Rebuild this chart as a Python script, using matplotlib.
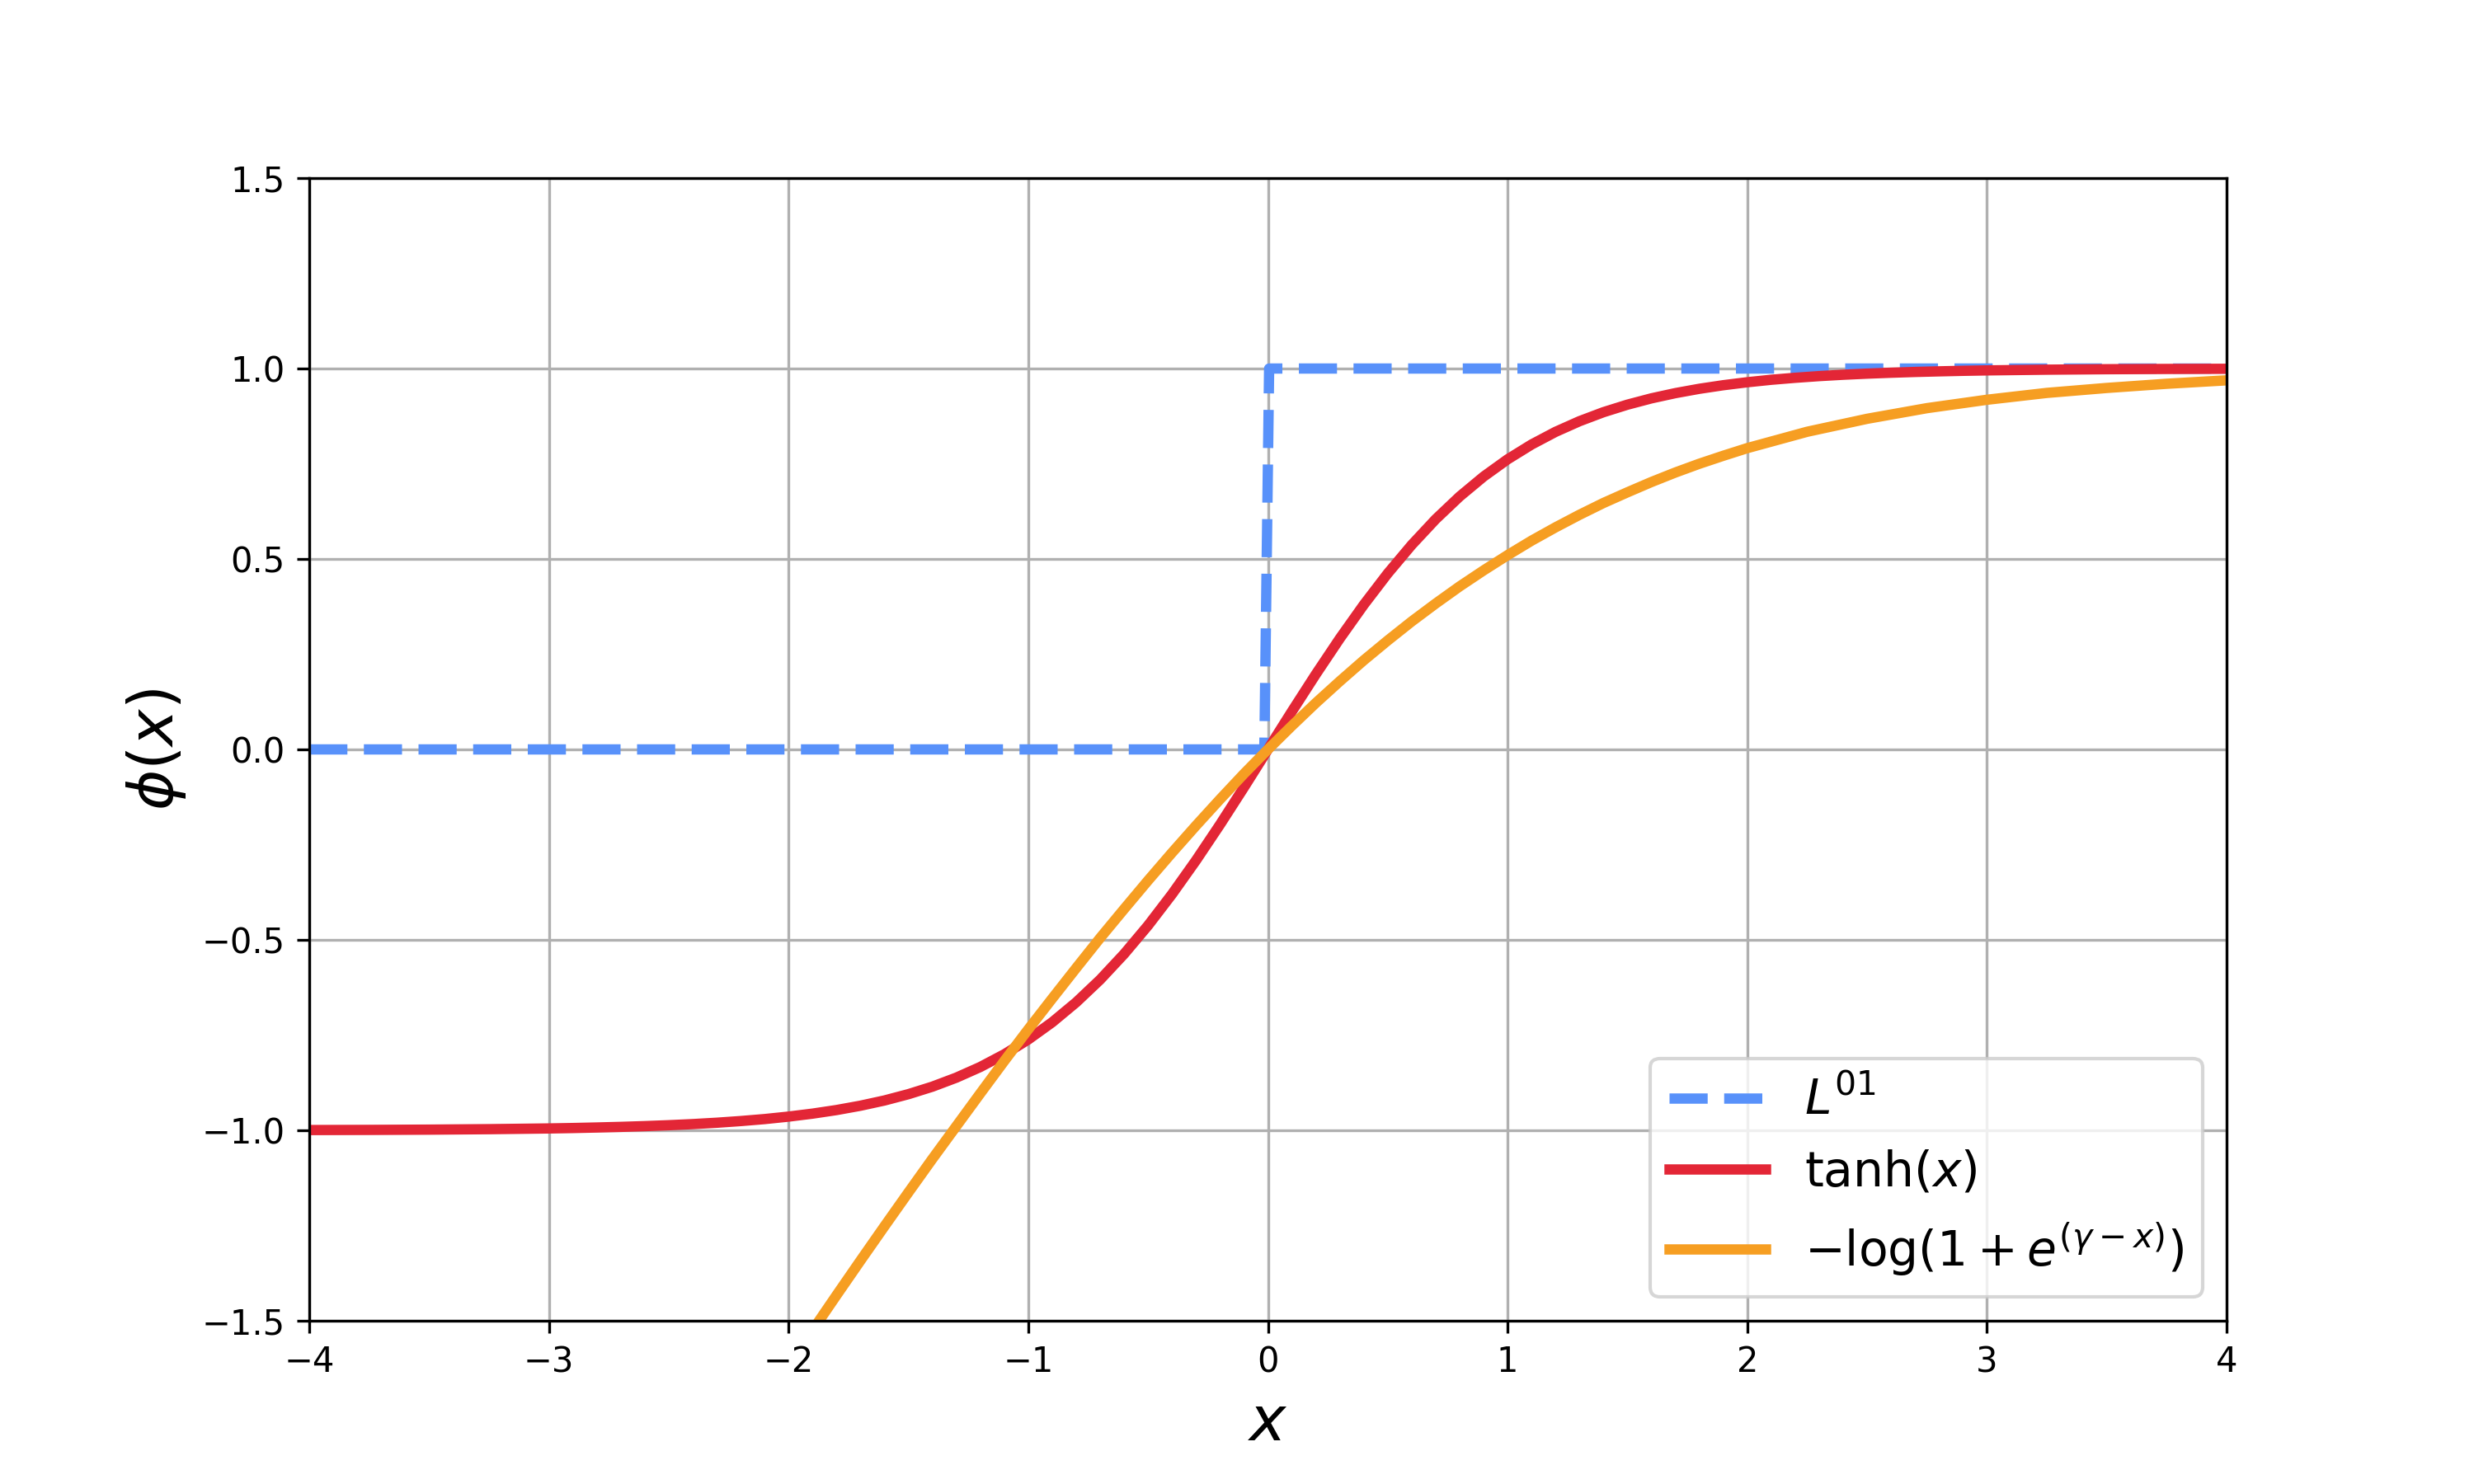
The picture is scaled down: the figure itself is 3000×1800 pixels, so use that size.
import numpy as np
import matplotlib.pyplot as plt

# step function L01 (corner points)
step_x = [-4.0, -0.015, 0.005, 4.0]
step_y = [0.0, 0.0, 1.0, 1.0]

# tanh(x): the right half, the left half is its mirror
tanh_half_x = [0.0, 0.1, 0.2, 0.3, 0.4, 0.5, 0.6, 0.7, 0.8, 0.9, 1.0,
               1.1, 1.2, 1.3, 1.4, 1.5, 1.6, 1.7, 1.8, 1.9, 2.0,
               2.1, 2.2, 2.3, 2.4, 2.5, 2.6, 2.7, 2.8, 2.9, 3.0,
               3.25, 3.5, 3.75, 4.0]
tanh_half_y = [0.0, 0.0997, 0.1974, 0.2913, 0.3799, 0.4621, 0.5370, 0.6044, 0.6640, 0.7163, 0.7616,
               0.8005, 0.8337, 0.8617, 0.8854, 0.9051, 0.9217, 0.9354, 0.9468, 0.9562, 0.9640,
               0.9705, 0.9757, 0.9801, 0.9837, 0.9866, 0.9890, 0.9910, 0.9926, 0.9940, 0.9951,
               0.9970, 0.9982, 0.9989, 0.9993]

# -log(1 + e^(gamma - x)) curve
log_x = [-2.0, -1.9, -1.8, -1.7, -1.6, -1.5, -1.4, -1.3, -1.2, -1.1, -1.0,
         -0.9, -0.8, -0.7, -0.6, -0.5, -0.4, -0.3, -0.2, -0.1, 0.0,
         0.1, 0.2, 0.3, 0.4, 0.5, 0.6, 0.7, 0.8, 0.9, 1.0,
         1.1, 1.2, 1.3, 1.4, 1.5, 1.6, 1.7, 1.8, 1.9, 2.0,
         2.25, 2.5, 2.75, 3.0, 3.25, 3.5, 3.75, 4.0]
log_y = [-1.617, -1.525, -1.433, -1.342, -1.252, -1.163, -1.075, -0.989, -0.903, -0.818, -0.735,
         -0.654, -0.574, -0.495, -0.419, -0.344, -0.271, -0.200, -0.131, -0.064, 0.0,
         0.062, 0.122, 0.179, 0.234, 0.286, 0.336, 0.383, 0.428, 0.470, 0.510,
         0.548, 0.583, 0.616, 0.647, 0.675, 0.702, 0.727, 0.750, 0.771, 0.791,
         0.834, 0.868, 0.896, 0.918, 0.936, 0.949, 0.960, 0.969]

tanh_x = [-v for v in tanh_half_x[:0:-1]] + tanh_half_x
tanh_y = [-v for v in tanh_half_y[:0:-1]] + tanh_half_y

fig, ax = plt.subplots(figsize=(10, 6), dpi=300)

ax.plot(step_x, step_y, '--', color='#5891fa', lw=3, label=r'$L^{01}$')
ax.plot(tanh_x, tanh_y, '-', color='#e32636', lw=3, label=r'$\tanh(x)$')
ax.plot(log_x, log_y, '-', color='#f69e22', lw=3, label=r'$-\log(1+e^{(\gamma-x)})$')

ax.set_xlim(-4, 4)
ax.set_ylim(-1.5, 1.5)
ax.set_yticks([-1.5, -1.0, -0.5, 0.0, 0.5, 1.0, 1.5])
ax.grid(True)
ax.set_xlabel(r'$x$', fontsize=18)
ax.set_ylabel(r'$\phi(x)$', fontsize=18)
ax.legend(loc='lower right', fontsize=14)

plt.savefig('out.png')
